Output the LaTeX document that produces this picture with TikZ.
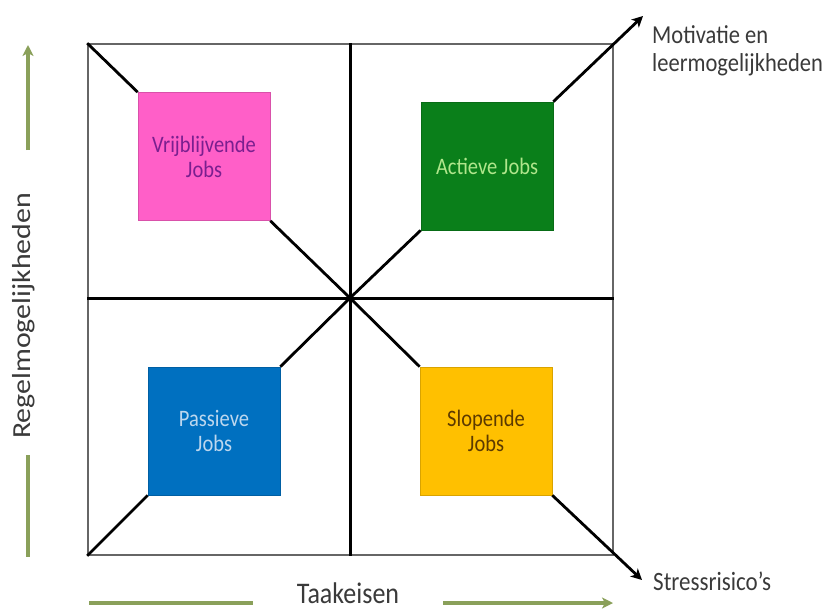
\documentclass[tikz,border=0pt]{standalone}
\usepackage{fontspec}
\setmainfont{Carlito}
\usetikzlibrary{arrows.meta}
\definecolor{pinkfill}{HTML}{FF5FC8}
\definecolor{pinktext}{HTML}{7A1F8F}
\definecolor{greenfill}{HTML}{0A7F1A}
\definecolor{greentext}{HTML}{B0E68C}
\definecolor{bluefill}{HTML}{0070C0}
\definecolor{bluetext}{HTML}{BDD7EE}
\definecolor{orangefill}{HTML}{FFC000}
\definecolor{orangetext}{HTML}{5C3A00}
\definecolor{axisgreen}{HTML}{8AA05A}
\definecolor{labelgray}{HTML}{3A3A3A}
\newcommand{\vst}[1]{\scalebox{1}[1.15]{#1}}
\newcommand{\hst}[1]{\scalebox{1.15}[1]{#1}}
\begin{document}
\begin{tikzpicture}[x=1pt,y=-1pt,
  jobbox/.style={draw=#1fill!85!black, line width=0.6pt, fill=#1fill, text=#1text,
    minimum width=132, minimum height=128, inner sep=0pt, align=center,
    font=\fontsize{20.5}{25}\selectfont},
  frameline/.style={draw=black!60, line width=1.6pt},
  crossline/.style={draw=black, line width=3pt},
  diag/.style={draw=black, line width=2.8pt},
  diagarrow/.style={draw=black, line width=2.8pt, -{Stealth[length=11pt,width=11pt,inset=3pt]}},
  axisline/.style={draw=axisgreen, line width=3.3pt},
  axisarrow/.style={draw=axisgreen, line width=3.3pt, -{Stealth[length=11pt,width=11pt,inset=3pt]}},
  lbl/.style={text=labelgray, inner sep=0pt}
]
\useasboundingbox (0,0) rectangle (832,610);
\fill[white] (0,0) rectangle (832,610);

% frame
\node[frameline, minimum width=525, minimum height=511, inner sep=0pt] (frame) at (350.5,299.5) {};
\coordinate (c) at (350,298);
\draw[crossline] (frame.north -| c) -- (frame.south -| c);
\draw[crossline] (frame.west |- c) -- (frame.east |- c);

% boxes
\node[jobbox=pink]   (vj) at (204,156.5) {\vst{Vrijblijvende}\\\vst{Jobs}};
\node[jobbox=green]  (aj) at (487,166) {\vst{Actieve Jobs}};
\node[jobbox=blue]   (pj) at (214,431) {\vst{Passieve}\\\vst{Jobs}};
\node[jobbox=orange] (sj) at (486,431) {\vst{Slopende}\\\vst{Jobs}};

% arrow tips
\coordinate (mt) at (643,16);
\coordinate (st) at (642,580);

% diagonals
\draw[diag] (frame.north west) -- (vj.north west);
\draw[diag] (vj.south east) -- (c);
\draw[diag] (aj.south west) -- (c);
\draw[diag] (pj.north east) -- (c);
\draw[diag] (pj.south west) -- (frame.south west);
\draw[diag] (sj.north west) -- (c);
\draw[diagarrow] (aj.north east) -- (mt);
\draw[diagarrow] (sj.south east) -- (st);

% labels
\node[lbl, anchor=north west, align=left, font=\fontsize{22.5}{28.5}\selectfont] (mot) at (652,25) {\vst{Motivatie en}\\\vst{leermogelijkheden}};
\node[lbl, anchor=base west, font=\fontsize{23}{28}\selectfont] (str) at (653,590) {\vst{Stressrisico’s}};
\node[lbl, anchor=base, font=\fontsize{26}{30}\selectfont] (tk) at (348,603) {\vst{Taakeisen}};
\node[lbl, rotate=90, font=\fontsize{26}{30}\selectfont] (rg) at (24,316) {\hst{Regelmogelijkheden}};

% axis arrows
\coordinate (va) at (28,150);
\coordinate (vb) at (28,45);
\coordinate (vc) at (28,455);
\coordinate (vd) at (28,557);
\coordinate (ha) at (89,603);
\coordinate (hb) at (253,603);
\coordinate (hc) at (443,603);
\coordinate (hd) at (613,603);
\draw[axisarrow] (va) -- (vb);
\draw[axisline] (vc) -- (vd);
\draw[axisline] (ha) -- (hb);
\draw[axisarrow] (hc) -- (hd);
\end{tikzpicture}
\end{document}
